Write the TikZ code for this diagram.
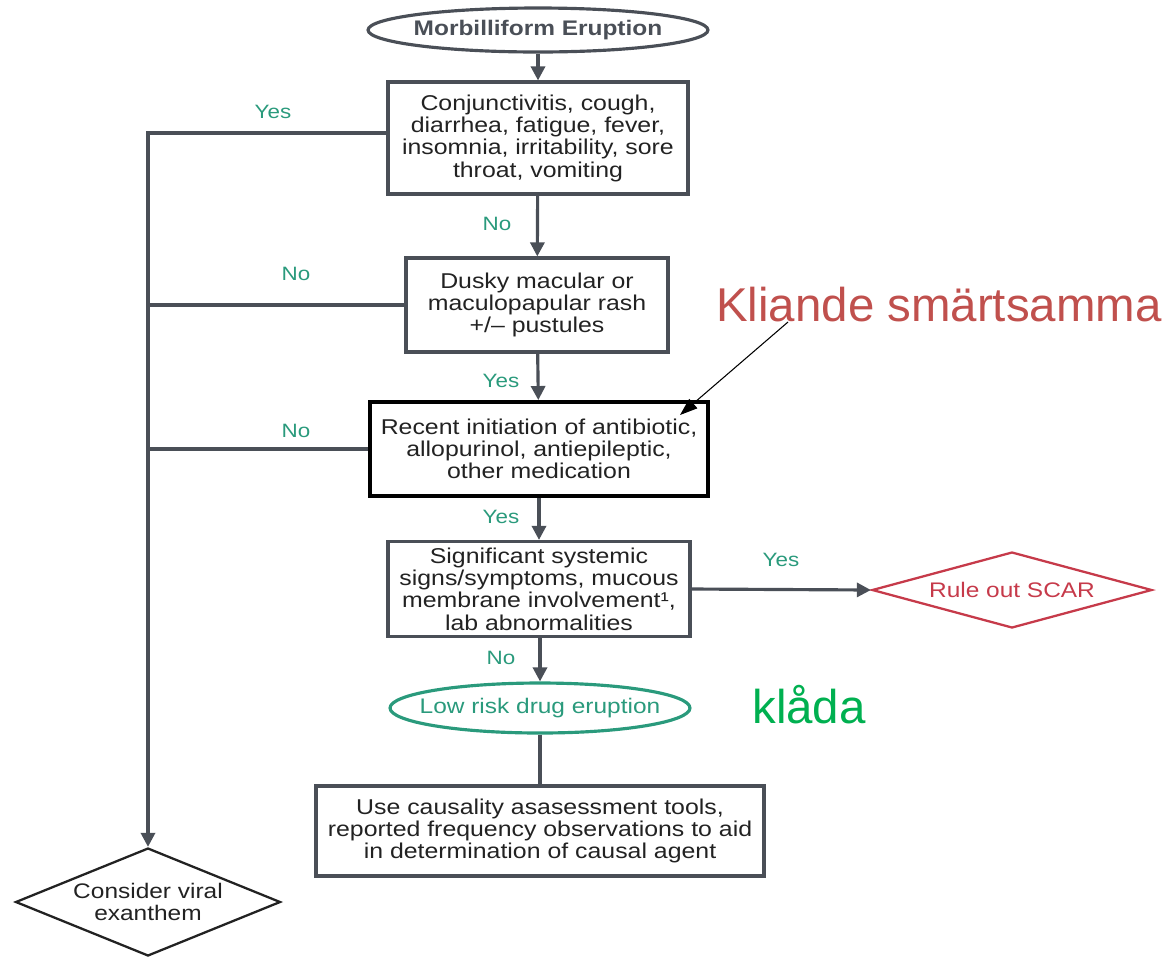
\documentclass[tikz,border=0pt]{standalone}
\usepackage{fontspec}
\setmainfont[FakeStretch=1.16]{Liberation Sans}
\newfontfamily\notefont{Liberation Sans}
\usepackage{tikz}
\usetikzlibrary{arrows.meta, shapes.geometric, positioning}

\definecolor{lineGray}{HTML}{4A4F57}
\definecolor{textDark}{HTML}{222222}
\definecolor{labelTeal}{HTML}{2A9A7C}
\definecolor{scarRed}{HTML}{C63A4A}
\definecolor{noteRed}{HTML}{C0504D}
\definecolor{noteGreen}{HTML}{00B050}

\tikzset{
  stepbox/.style={draw=lineGray, line width=1.8pt, align=center, text=textDark,
    font=\fontsize{12.2}{12.7}\selectfont},
  startshape/.style={ellipse, draw=lineGray, line width=1.8pt},
  endshape/.style={ellipse, draw=labelTeal, line width=1.8pt},
  decision/.style={diamond, draw=textDark, line width=1.3pt, inner sep=0pt, align=center,
    text=textDark, font=\fontsize{12}{12.5}\selectfont},
  flow/.style={draw=lineGray, line width=1.8pt, -{Triangle[length=8pt,width=8pt]}},
  link/.style={draw=lineGray, line width=1.8pt},
  answer/.style={text=labelTeal, font=\fontsize{11}{12}\selectfont},
}

\begin{document}
\begin{tikzpicture}[x=0.02cm, y=-0.02cm]
    \useasboundingbox (0,0) rectangle (1166,958);

    % Main column
    \node[startshape, minimum width=6.8cm, minimum height=0.88cm,
      label={[text=lineGray, font=\fontsize{12}{12.5}\selectfont\bfseries]center:Morbilliform Eruption}] (start) at (538,30) {};
    \node[stepbox, minimum width=6cm, minimum height=2.24cm] (symptoms) at (538,138)
      {Conjunctivitis, cough,\\ diarrhea, fatigue, fever,\\ insomnia, irritability, sore\\ throat, vomiting};
    \node[stepbox, minimum width=5.24cm, minimum height=1.88cm] (rash) at (537,305)
      {Dusky macular or\\ maculopapular rash\\ +/– pustules};
    \node[stepbox, draw=black, line width=2.2pt, minimum width=6.76cm, minimum height=1.88cm] (drug) at (539,449)
      {Recent initiation of antibiotic,\\ allopurinol, antiepileptic,\\ other medication};
    \node[stepbox, minimum width=6.04cm, minimum height=1.9cm] (systemic) at (539,589)
      {Significant systemic\\ signs/symptoms, mucous\\ membrane involvement¹,\\ lab abnormalities};
    \node[endshape, minimum width=6cm, minimum height=1cm,
      label={[text=labelTeal, font=\fontsize{12}{12.5}\selectfont]center:Low risk drug eruption}] (lowrisk) at (540,708) {};
    \node[stepbox, minimum width=8.96cm, minimum height=1.8cm] (causal) at (540,831)
      {Use causality asasessment tools,\\ reported frequency observations to aid\\ in determination of causal agent};

    % Outcomes
    \node[decision, draw=scarRed, text=scarRed, aspect=3.68, minimum width=5.6cm, minimum height=1.52cm,
      font=\fontsize{12}{12.5}\selectfont] (scar) at (1012,590) {Rule out SCAR};
    \node[decision, aspect=2.45, minimum width=5.3cm, minimum height=2.16cm] (viral) at (148,902)
      {Consider viral\\ exanthem};

    % Connectors down the column
    \draw[flow] (start) -- (symptoms);
    \draw[flow] (symptoms) -- (rash);
    \draw[flow] (rash) -- (drug);
    \draw[flow] (drug.south -| systemic.north) -- (systemic);
    \draw[flow] (systemic.south -| lowrisk.north) -- (lowrisk);
    \draw[link] (lowrisk) -- (causal);
    \draw[flow] (systemic.east) -- (scar.west);

    % Left trunk to viral exanthem
    \draw[flow] (symptoms.west |- 0,133) -| (viral.north);
    \draw[link] (rash.west) -- (rash.west -| viral.north);
    \draw[link] (drug.west) -- (drug.west -| viral.north);

    % Yes / No labels
    \node[answer] (yes1) at (273,112) {Yes};
    \node[answer] (no1) at (497,224) {No};
    \node[answer] (no2) at (296,274) {No};
    \node[answer] (yes2) at (501,381) {Yes};
    \node[answer] (no3) at (296,431) {No};
    \node[answer] (yes3) at (501,517) {Yes};
    \node[answer] (yes4) at (781,560) {Yes};
    \node[answer] (no4) at (501,658) {No};

    % Added notes
    \node[text=noteRed, font=\notefont\fontsize{27}{30}\selectfont] (note) at (939,305) {Kliande smärtsamma};
    \node[text=noteGreen, font=\notefont\fontsize{27}{30}\selectfont] (itch) at (809,705) {klåda};
    \coordinate (noteFoot) at (788,322);
    \coordinate (noteTip) at (680,415);
    \draw[black, line width=0.6pt, -{Triangle[length=10pt,width=7pt]}] (noteFoot) -- (noteTip);
\end{tikzpicture}
\end{document}
